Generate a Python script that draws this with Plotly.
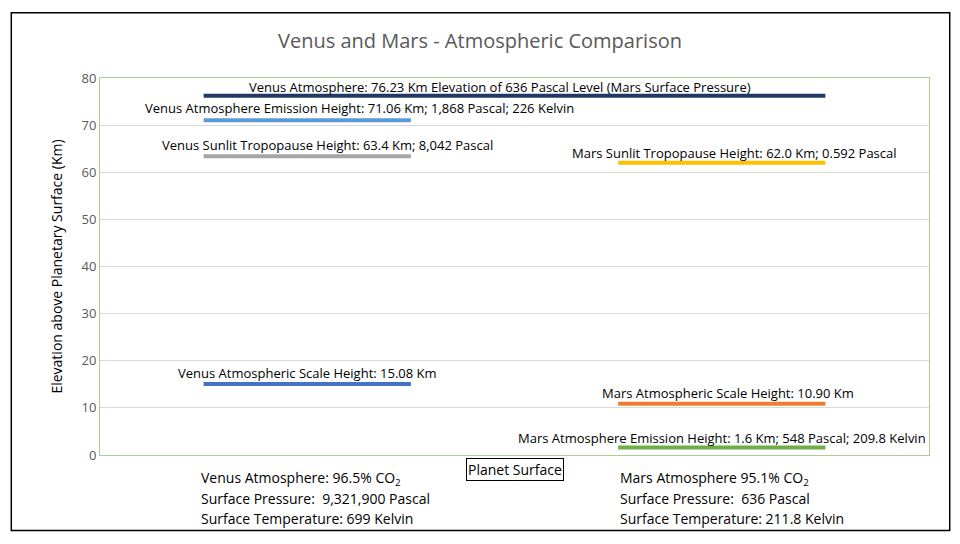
import plotly.graph_objects as go

# horizontal levels (Km) and their x-extent (Venus column 0.5-1.5, Mars column 2.5-3.5)
levels = [76.23, 71.06, 63.4, 15.08, 62.0, 10.90, 1.6]
x_start = [0.5, 0.5, 0.5, 0.5, 2.5, 2.5, 2.5]
x_end = [3.5, 1.5, 1.5, 1.5, 3.5, 3.5, 3.5]
colors = ["#1f3864", "#5b9bd5", "#a5a5a5", "#4472c4", "#ffc000", "#ed7d31", "#70ad47"]
labels = [
    "Venus Atmosphere: 76.23 Km Elevation of 636 Pascal Level (Mars Surface Pressure)",
    "Venus Atmosphere Emission Height: 71.06 Km; 1,868 Pascal; 226 Kelvin",
    "Venus Sunlit Tropopause Height: 63.4 Km; 8,042 Pascal",
    "Venus Atmospheric Scale Height: 15.08 Km",
    "Mars Sunlit Tropopause Height: 62.0 Km; 0.592 Pascal",
    "Mars Atmospheric Scale Height: 10.90 Km",
    "Mars Atmosphere Emission Height: 1.6 Km; 548 Pascal; 209.8 Kelvin",
]
label_x = [1.93, 1.25, 1.10, 1.00, 3.06, 3.03, 3.00]
label_y = [78.0, 73.6, 65.8, 17.4, 64.0, 13.2, 3.6]

venus_notes = ["Venus Atmosphere: 96.5% CO<sub>2</sub>", "Surface Pressure:  9,321,900 Pascal",
               "Surface Temperature: 699 Kelvin"]
mars_notes = ["Mars Atmosphere 95.1% CO<sub>2</sub>", "Surface Pressure:  636 Pascal",
              "Surface Temperature: 211.8 Kelvin"]

fig = go.Figure()
for y, a, b, c in zip(levels, x_start, x_end, colors):
    fig.add_trace(go.Scatter(x=[a, b], y=[y, y], mode="lines",
                             line=dict(color=c, width=4), showlegend=False, hoverinfo="skip"))

for t, x, y in zip(labels, label_x, label_y):
    fig.add_annotation(x=x, y=y, text=t, showarrow=False, font=dict(size=13, color="black"))

for i, t in enumerate(venus_notes):
    fig.add_annotation(xref="paper", yref="paper", x=0.12, y=-0.03 - i * 0.054, text=t,
                       showarrow=False, xanchor="left", yanchor="top", font=dict(size=14, color="black"))
for i, t in enumerate(mars_notes):
    fig.add_annotation(xref="paper", yref="paper", x=0.625, y=-0.03 - i * 0.054, text=t,
                       showarrow=False, xanchor="left", yanchor="top", font=dict(size=14, color="black"))
fig.add_annotation(xref="paper", yref="paper", x=0.5, y=-0.008, text="Planet Surface",
                   showarrow=False, yanchor="top", bordercolor="black", borderwidth=1,
                   bgcolor="white", font=dict(size=14, color="black"))

# outer frame
fig.add_shape(type="rect", xref="paper", yref="paper", x0=-0.107, x1=1.025, y0=-0.2, y1=1.173,
              line=dict(color="black", width=1.5))

fig.update_layout(
    title=dict(text="Venus and Mars - Atmospheric Comparison", x=0.5, y=0.95,
               font=dict(size=20, color="#595959")),
    font=dict(family="Open Sans, Liberation Sans, sans-serif"),
    margin=dict(l=92, r=23, t=70, b=81),
    plot_bgcolor="white", paper_bgcolor="white",
    xaxis=dict(range=[0, 4], showticklabels=False, showgrid=False, zeroline=False,
               showline=True, linecolor="#a9d18e", mirror=True),
    yaxis=dict(range=[0, 80], dtick=10, showgrid=True, gridcolor="#d9d9d9", zeroline=False,
               showline=True, linecolor="#a9d18e", mirror=True,
               tickfont=dict(size=13, color="#595959"),
               title=dict(text="Elevation above Planetary Surface (Km)", font=dict(size=14, color="black"))),
)

fig.write_html("out.html")
